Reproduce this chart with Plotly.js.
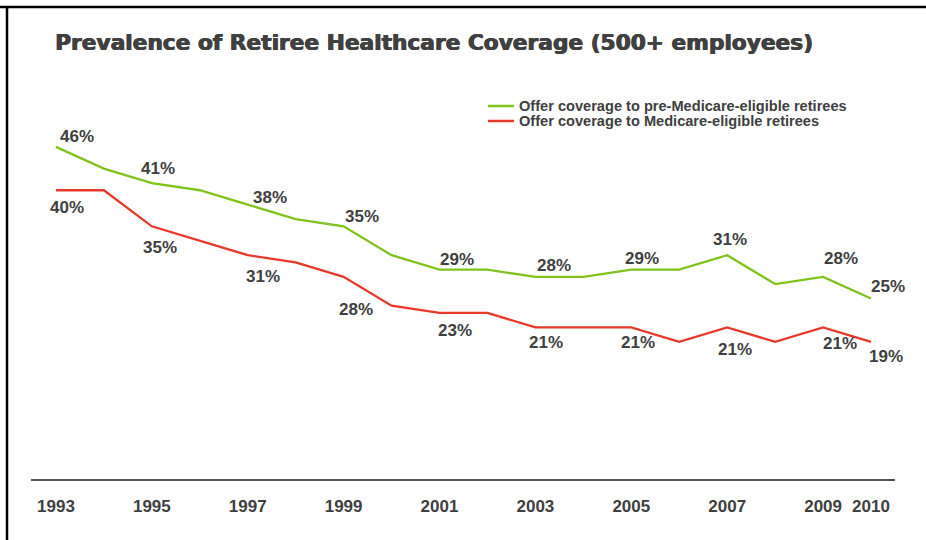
<!DOCTYPE html>
<html>
<head>
<meta charset="utf-8">
<script src="https://cdn.plot.ly/plotly-3.0.1.min.js"></script>
<style>html,body{margin:0;padding:0;background:#fff;}#chart{width:926px;height:540px;}</style>
</head>
<body>
<div id="chart"></div>
<script>
// ---- data ----
const years = [1993,1994,1995,1996,1997,1998,1999,2000,2001,2002,2003,2004,2005,2006,2007,2008,2009,2010];
const preMedicare = [46,43,41,40,38,36,35,31,29,29,28,28,29,29,31,27,28,25];
const medicare    = [40,40,35,33,31,30,28,24,23,23,21,21,21,19,21,19,21,19];
const labelYears  = [1993,1995,1997,1999,2001,2003,2005,2007,2009,2010];
const tickYears   = [1993,1995,1997,1999,2001,2003,2005,2007,2009,2010];
const seriesNames = ["Offer coverage to pre-Medicare-eligible retirees","Offer coverage to Medicare-eligible retirees"];
const chartTitle = "Prevalence of Retiree Healthcare Coverage (500+ employees)";

// ---- styling (label offsets in px, per labelled year) ----
const greenShift = [[21,10],[6,15],[22,7],[18,10],[17,10],[19,11],[11,11],[3,16],[18,18],[17,12]];
const redShift   = [[11,-17],[8,-21],[15,-21],[12,-33],[15,-18],[11,-15],[7,-15],[8,-22],[17,-16],[15,-15]];
const GREEN = "#7fc31c", RED = "#e8382a", TXT = "#404040";
const W = 926, H = 540, ML = 31, MR = 31, MT = 100, MB = 61;
const FONT = 'Liberation Sans, Arial, sans-serif';

const pw = W-ML-MR, ph = H-MT-MB;
const px = x => (x-ML)/pw, py = y => (H-MB-y)/ph;

const annotations = [];
function addLabels(vals, shifts){
  labelYears.forEach((yr,i)=>{
    const v = vals[years.indexOf(yr)];
    annotations.push({x:yr, y:v, xref:'x', yref:'y', text:v+'%', showarrow:false,
      xshift:shifts[i][0], yshift:shifts[i][1],
      font:{family:FONT, size:17, color:TXT, weight:'bold'}});
  });
}
addLabels(preMedicare, greenShift);
addLabels(medicare, redShift);

// manual legend (tight row spacing as in the reference)
const legendColors = [GREEN, RED];
const legendRows = [106, 121];
const shapes = [
  {type:'line', xref:'paper', yref:'paper', x0:px(0), x1:px(W), y0:py(7), y1:py(7), line:{color:'#000', width:2.5}},
  {type:'line', xref:'paper', yref:'paper', x0:px(7), x1:px(7), y0:py(7), y1:py(H), line:{color:'#000', width:2.5}}
];
seriesNames.forEach((nm,i)=>{
  shapes.push({type:'line', xref:'paper', yref:'paper', x0:px(488), x1:px(514), y0:py(legendRows[i]), y1:py(legendRows[i]),
    line:{color:legendColors[i], width:2.5}});
  annotations.push({xref:'paper', yref:'paper', x:px(517), y:py(legendRows[i]), xanchor:'left', yanchor:'middle',
    text:nm, showarrow:false, font:{family:FONT, size:14.6, color:TXT, weight:'bold'}});
});

const traces = [
  {x:years, y:preMedicare, name:seriesNames[0], type:'scatter', mode:'lines', line:{color:GREEN, width:2.3}},
  {x:years, y:medicare, name:seriesNames[1], type:'scatter', mode:'lines', line:{color:RED, width:2.3}}
];

const layout = {
  width:W, height:H, margin:{l:ML, r:MR, t:MT, b:MB},
  paper_bgcolor:'#fff', plot_bgcolor:'#fff',
  title:{text:chartTitle, x:55/W, xref:'container', xanchor:'left', y:1-42/H, yref:'container', yanchor:'middle',
    font:{family:'DejaVu Sans, sans-serif', size:21.7, color:TXT, weight:'bold', shadow:'0.7px 0 0 #404040, -0.3px 0 0 #404040'}},
  xaxis:{range:[1992.48,2010.5], tickvals:tickYears, ticktext:tickYears.map(String), showgrid:false, zeroline:false,
    showline:true, linecolor:'#555', linewidth:1.5, ticks:'', ticklen:0, ticklabelstandoff:11,
    tickfont:{family:FONT, size:17, color:TXT, weight:'bold'}, fixedrange:true},
  yaxis:{range:[0,52.5], showgrid:false, zeroline:false, showticklabels:false, showline:false, fixedrange:true},
  showlegend:false,
  annotations:annotations,
  shapes:shapes
};
Plotly.newPlot('chart', traces, layout, {displayModeBar:false, staticPlot:true});
</script>
</body>
</html>
